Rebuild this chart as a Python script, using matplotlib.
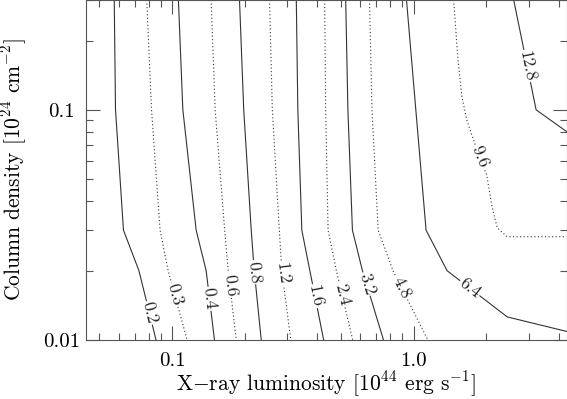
import numpy as np
import matplotlib
matplotlib.use("Agg")
import matplotlib.pyplot as plt
from matplotlib.ticker import FixedLocator, NullFormatter

plt.rcParams['font.family'] = 'cmr10'
plt.rcParams['mathtext.fontset'] = 'cm'
plt.rcParams['axes.unicode_minus'] = False

# contour levels, left to right
levels = ['0.2', '0.3', '0.4', '0.6', '0.8', '1.2', '1.6', '2.4', '3.2', '4.8', '6.4', '9.6', '12.8']
dotted = [False, True, False, True, False, True, False, True, False, True, False, True, False]

# column density rows where most contours were sampled
row_y = [0.3, 0.1, 0.03, 0.02, 0.01]

# luminosity where each contour crosses row_y
x_02 = [0.0576, 0.0583, 0.0629, 0.0729, 0.0858]
x_03 = [0.0785, 0.0822, 0.0892, 0.0963, 0.1154]
x_04 = [0.1062, 0.1108, 0.1258, 0.1384, 0.1498]
x_06 = [0.1451, 0.1508, 0.1651, 0.1708, 0.1843]
x_08 = [0.1902, 0.1980, 0.2127, 0.2189, 0.2340]
x_12 = [0.2533, 0.2601, 0.2780, 0.2847, 0.3102]
x_16 = [0.3269, 0.3317, 0.3446, 0.3720, 0.4244]
x_24 = [0.4285, 0.4325, 0.4426, 0.4792, 0.5599]
x_32 = [0.5236, 0.5347, 0.5583, 0.6142, 0.7509]
x_48 = [0.6570, 0.6727, 0.7137, 0.8220, 1.1463]

# the high levels bend over to the right
x_64 = [0.935, 1.022, 1.127, 1.377, 2.443, 4.3]
y_64 = [0.3, 0.1, 0.03, 0.02, 0.0126, 0.0109]
x_96 = [1.466, 1.522, 1.582, 1.660, 1.861, 2.009, 2.107, 2.221, 2.443, 4.3]
y_96 = [0.3, 0.173, 0.116, 0.0905, 0.0637, 0.0522, 0.0386, 0.0307, 0.0281, 0.0281]
x_128 = [2.599, 3.218, 4.3]
y_128 = [0.3, 0.1, 0.0805]

# column density at which each level is labelled
label_y = [0.0131, 0.0157, 0.0151, 0.0173, 0.0197, 0.0194, 0.0155,
           0.0157, 0.0175, 0.0169, 0.0168, 0.0625, 0.155]

contour_x = [x_02, x_03, x_04, x_06, x_08, x_12, x_16, x_24, x_32, x_48, x_64, x_96, x_128]
contour_y = [row_y] * 10 + [y_64, y_96, y_128]

fig = plt.figure(figsize=(5.67, 3.99), dpi=100)
ax = fig.add_axes([86 / 567, 59 / 399, 480.5 / 567, 340 / 399])
ax.set_xscale('log')
ax.set_yscale('log')
ax.set_xlim(0.044, 4.3)
ax.set_ylim(0.01, 0.3)


def label_line(xs, ys, yl, text):
    # find where the line passes yl in screen space and follow its slope
    pts = ax.transData.transform(np.column_stack([xs, ys]))
    yd = ax.transData.transform((xs[0], yl))[1]
    for (x0, y0), (x1, y1) in zip(pts[:-1], pts[1:]):
        if y0 != y1 and min(y0, y1) <= yd <= max(y0, y1):
            t = (yd - y0) / (y1 - y0)
            xd = x0 + t * (x1 - x0)
            ang = np.degrees(np.arctan2(y1 - y0, x1 - x0))
            break
    if ang > 90:
        ang -= 180
    if ang < -90:
        ang += 180
    xl, yl2 = ax.transData.inverted().transform((xd, yd))
    ax.text(xl, yl2, text, rotation=ang, rotation_mode='anchor',
            ha='center', va='center', fontsize=12.5, color='#222222',
            bbox=dict(fc='white', ec='none', pad=0.8))


for lev, xs, ys, dot, yl in zip(levels, contour_x, contour_y, dotted, label_y):
    ls = (0, (1, 2.2)) if dot else '-'
    ax.plot(xs, ys, color='#333333', lw=0.8, ls=ls)
    label_line(xs, ys, yl, lev)

ax.xaxis.set_major_locator(FixedLocator([0.1, 1.0]))
ax.xaxis.set_minor_locator(FixedLocator([0.05, 0.06, 0.07, 0.08, 0.09, 0.2, 0.3, 0.4, 0.5,
                                         0.6, 0.7, 0.8, 0.9, 2, 3, 4]))
ax.set_xticklabels(['0.1', '1.0'])
ax.yaxis.set_major_locator(FixedLocator([0.01, 0.1]))
ax.yaxis.set_minor_locator(FixedLocator([0.02, 0.03, 0.04, 0.05, 0.06, 0.07, 0.08, 0.09, 0.2, 0.3]))
ax.set_yticklabels(['0.01', '0.1'])
ax.xaxis.set_minor_formatter(NullFormatter())
ax.yaxis.set_minor_formatter(NullFormatter())

ax.tick_params(which='both', direction='in', top=True, right=True, color='#555555', width=0.8)
ax.tick_params(which='major', length=10)
ax.tick_params(which='minor', length=5)
ax.tick_params(axis='x', which='major', labelsize=15, pad=9)
ax.tick_params(axis='y', which='major', labelsize=15, pad=17.6)
for lbl in ax.get_yticklabels():
    lbl.set_horizontalalignment('center')
for sp in ax.spines.values():
    sp.set_color('#555555')
    sp.set_linewidth(0.8)

ax.set_xlabel('X$-$ray luminosity [10$^{44}$ erg s$^{-1}$]', fontsize=15.5, va='center')
ax.set_ylabel('Column density [10$^{24}$ cm$^{-2}$]', fontsize=15.5, va='center')
ax.xaxis.set_label_coords(0.5, (340 - 384) / 340)
ax.yaxis.set_label_coords((14 - 86) / 480.5, 0.5)

fig.savefig('out.png', dpi=100)
